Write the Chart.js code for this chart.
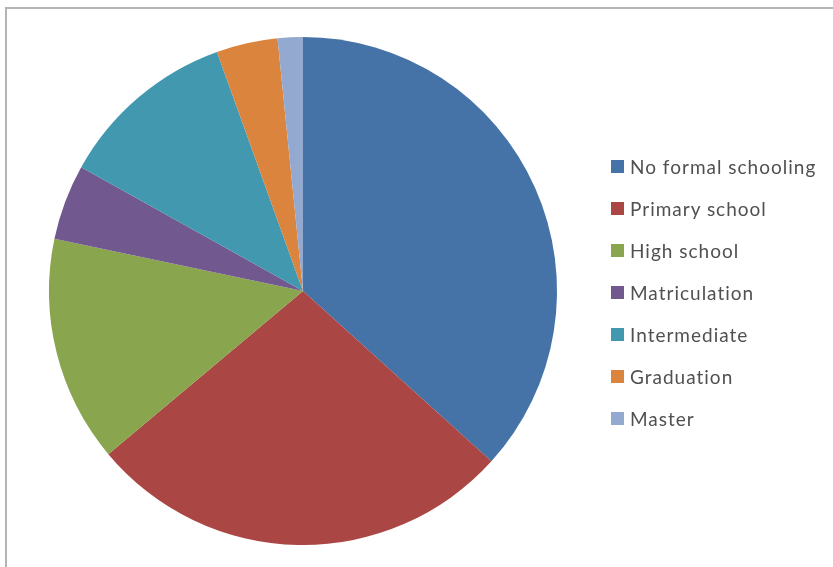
<!DOCTYPE html>
<html>
<head>
<meta charset="utf-8">
<script src="https://cdn.jsdelivr.net/npm/chart.js@4/dist/chart.umd.min.js"></script>
<style>
  html, body { margin: 0; padding: 0; background: #ffffff; }
  #wrap { position: relative; width: 833px; height: 567px; overflow: hidden; background: #ffffff; }
  #frame { position: absolute; left: 5px; top: 7px; width: 900px; height: 600px;
           border-left: 2px solid #b4b4b4; border-top: 2px solid #b4b4b4; box-sizing: border-box; }
  #chart { position: absolute; left: 0; top: 0; }
  #legend { position: absolute; left: 611px; top: 0; margin: 0; padding: 0; list-style: none;
            font-family: Lato, "Open Sans", sans-serif; font-size: 19px; letter-spacing: 1px; color: #505050; }
  #legend li { position: absolute; left: 0; white-space: nowrap; display: flex; align-items: center; height: 26px; }
  #legend .box { display: inline-block; width: 13px; height: 13px; margin-right: 6px; }
</style>
</head>
<body>
<div id="wrap">
  <div id="frame"></div>
  <canvas id="chart" width="833" height="567"></canvas>
  <ul id="legend"></ul>
</div>
<script>
// Education level shares (percent)
const categories = [
  'No formal schooling',
  'Primary school',
  'High school',
  'Matriculation',
  'Intermediate',
  'Graduation',
  'Master'
];
const shares = [36.7, 27.2, 14.4, 4.8, 11.4, 3.9, 1.6];
const sliceColors = ['#4572A7', '#AA4643', '#89A54E', '#71588F', '#4198AF', '#DB843D', '#93A9CF'];

new Chart(document.getElementById('chart'), {
  type: 'pie',
  data: {
    labels: categories,
    datasets: [{
      data: shares,
      backgroundColor: sliceColors,
      borderWidth: 0
    }]
  },
  options: {
    responsive: false,
    animation: false,
    layout: { padding: { left: 49, right: 276, top: 37, bottom: 22 } },
    plugins: {
      legend: { display: false },
      tooltip: { enabled: false }
    }
  }
});

// Legend list to the right of the pie
const legend = document.getElementById('legend');
const rowTop = 153, rowStep = 42;
categories.forEach((name, i) => {
  const li = document.createElement('li');
  li.style.top = (rowTop + i * rowStep) + 'px';
  const box = document.createElement('span');
  box.className = 'box';
  box.style.background = sliceColors[i];
  li.appendChild(box);
  li.appendChild(document.createTextNode(name));
  legend.appendChild(li);
});
</script>
</body>
</html>
